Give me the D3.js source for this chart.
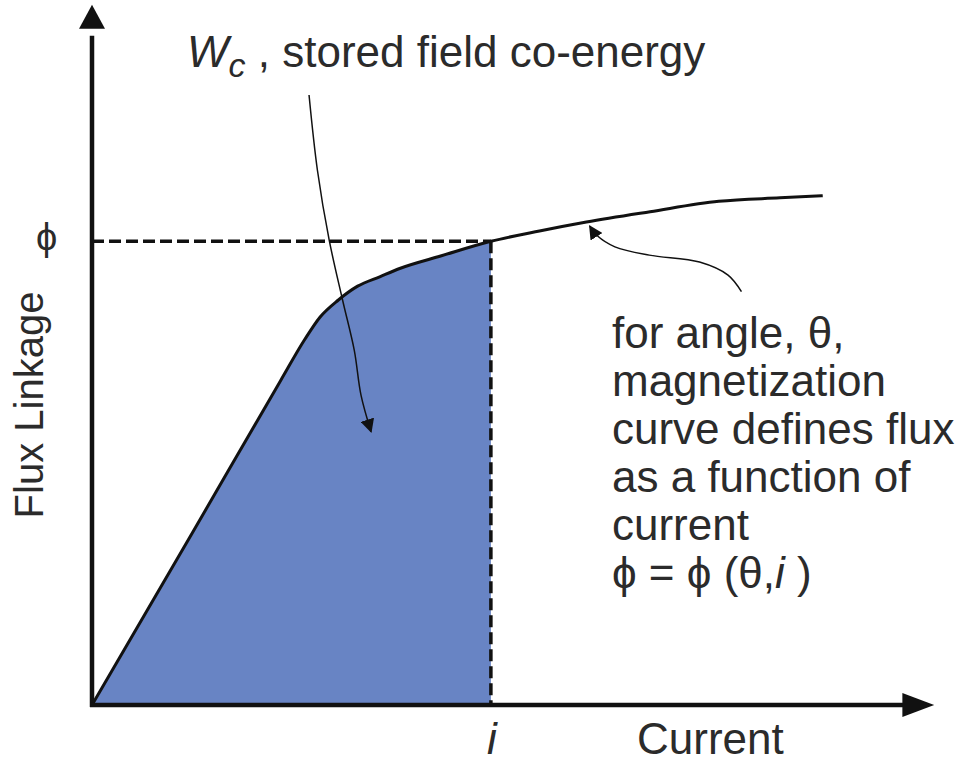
<!DOCTYPE html>
<html>
<head>
<meta charset="utf-8">
<script src="https://cdn.jsdelivr.net/npm/d3@7"></script>
<style>
  html, body { margin: 0; padding: 0; background: #fff; }
  text { font-family: "Liberation Sans", Arial, sans-serif; fill: #2b2b2b; }
</style>
</head>
<body>
<svg id="chart" width="969" height="764"></svg>
<script>
// Magnetization curve: flux linkage versus current at a fixed rotor angle
const current = [0, 1.20, 2.25, 2.54, 2.72, 2.94, 3.17, 3.44, 3.68, 4.17, 4.76, 5.34, 5.90, 6.66, 7.48, 8.21, 8.72];
const flux    = [0, 2.50, 4.70, 5.30, 5.62, 5.87, 6.07, 6.21, 6.33, 6.51, 6.72, 6.87, 7.00, 7.15, 7.30, 7.35, 7.38];

// Operating point (i, phi) on the curve
const opCurrent = 4.76;
const opFlux = 6.72;

// Annotation leader lines (data units)
const coEnergyLeaderX = [2.59, 2.69, 2.83, 2.99, 3.13, 3.21, 3.33];
const coEnergyLeaderY = [8.84, 7.75, 6.74, 5.87, 5.14, 4.49, 3.96];
const curveLeaderX = [7.75, 7.59, 7.25, 6.65, 6.24, 6.03, 5.94];
const curveLeaderY = [5.99, 6.23, 6.42, 6.52, 6.64, 6.80, 6.94];

const descLines = ["for angle, θ,", "magnetization", "curve defines flux", "as a function of", "current"];

const svg = d3.select("#chart");
const x = d3.scaleLinear().domain([0, 10]).range([92, 930]);
const y = d3.scaleLinear().domain([0, 10]).range([705, 15]);

const pts = current.map((c, k) => [c, flux[k]]);
const ink = "#111";

// arrowhead marker for the leader lines
const defs = svg.append("defs");
defs.append("marker")
  .attr("id", "tip").attr("viewBox", "0 0 10 10").attr("refX", 9).attr("refY", 5)
  .attr("markerWidth", 14).attr("markerHeight", 14).attr("markerUnits", "userSpaceOnUse")
  .attr("orient", "auto")
  .append("path").attr("d", "M0,0 L10,5 L0,10 Z").attr("fill", ink);

// co-energy region under the curve up to i
const area = d3.area().x(d => x(d[0])).y0(y(0)).y1(d => y(d[1])).curve(d3.curveMonotoneX);
svg.append("path")
  .datum(pts.filter(d => d[0] <= opCurrent))
  .attr("d", area)
  .attr("fill", "#6884c4");

// dashed guides to the operating point
svg.append("line")
  .attr("x1", x(0)).attr("x2", x(opCurrent)).attr("y1", y(opFlux)).attr("y2", y(opFlux))
  .attr("stroke", ink).attr("stroke-width", 3.5).attr("stroke-dasharray", "12,5");
svg.append("line")
  .attr("x1", x(opCurrent)).attr("x2", x(opCurrent)).attr("y1", y(opFlux)).attr("y2", y(0))
  .attr("stroke", ink).attr("stroke-width", 3.5).attr("stroke-dasharray", "12,5");

// magnetization curve
const line = d3.line().x(d => x(d[0])).y(d => y(d[1])).curve(d3.curveMonotoneX);
svg.append("path").datum(pts).attr("d", line)
  .attr("fill", "none").attr("stroke", ink).attr("stroke-width", 3).attr("stroke-linejoin", "round");

// axes with arrowheads
svg.append("line").attr("x1", x(0)).attr("x2", x(0)).attr("y1", y(0) + 2).attr("y2", y(9.7))
  .attr("stroke", ink).attr("stroke-width", 4.5);
svg.append("path")
  .attr("d", `M${x(0)},${y(10.15)} L${x(0) - 13},${y(9.8)} L${x(0) + 13},${y(9.8)} Z`)
  .attr("fill", ink);
svg.append("line").attr("x1", x(0) - 2).attr("x2", x(9.7)).attr("y1", y(0)).attr("y2", y(0))
  .attr("stroke", ink).attr("stroke-width", 4.5);
svg.append("path")
  .attr("d", `M${x(10.05)},${y(0)} L${x(9.67)},${y(0) - 12} L${x(9.67)},${y(0) + 12} Z`)
  .attr("fill", ink);

// leader lines
const leader = d3.line().x(d => x(d[0])).y(d => y(d[1])).curve(d3.curveCatmullRom);
svg.append("path")
  .datum(coEnergyLeaderX.map((v, k) => [v, coEnergyLeaderY[k]]))
  .attr("d", leader).attr("fill", "none").attr("stroke", ink).attr("stroke-width", 1.5)
  .attr("marker-end", "url(#tip)");
svg.append("path")
  .datum(curveLeaderX.map((v, k) => [v, curveLeaderY[k]]))
  .attr("d", leader).attr("fill", "none").attr("stroke", ink).attr("stroke-width", 1.5)
  .attr("marker-end", "url(#tip)");

// labels
const title = svg.append("text").attr("x", 187).attr("y", 67).attr("font-size", 44);
title.append("tspan").attr("font-style", "italic").text("W");
title.append("tspan").attr("font-style", "italic").attr("font-size", 34).attr("dy", 10).text("c");
title.append("tspan").attr("dy", -10).text(" , stored field co-energy");

svg.append("text").attr("x", 36).attr("y", 250).attr("font-size", 38).text("ϕ");

svg.append("text")
  .attr("transform", "translate(43,405) rotate(-90)")
  .attr("text-anchor", "middle").attr("font-size", 40).text("Flux Linkage");

svg.append("text").attr("x", x(opCurrent) - 4).attr("y", 754).attr("font-size", 44)
  .attr("font-style", "italic").text("i");
svg.append("text").attr("x", 637).attr("y", 754).attr("font-size", 44).text("Current");

const desc = svg.append("text").attr("x", 612).attr("y", 348).attr("font-size", 44);
descLines.forEach((t, k) => {
  desc.append("tspan").attr("x", 612).attr("dy", k === 0 ? 0 : 48).text(t);
});
const eq = svg.append("text").attr("x", 612).attr("y", 588).attr("font-size", 44);
eq.append("tspan").text("ϕ = ϕ (θ,");
eq.append("tspan").attr("font-style", "italic").text("i");
eq.append("tspan").text(" )");
</script>
</body>
</html>
